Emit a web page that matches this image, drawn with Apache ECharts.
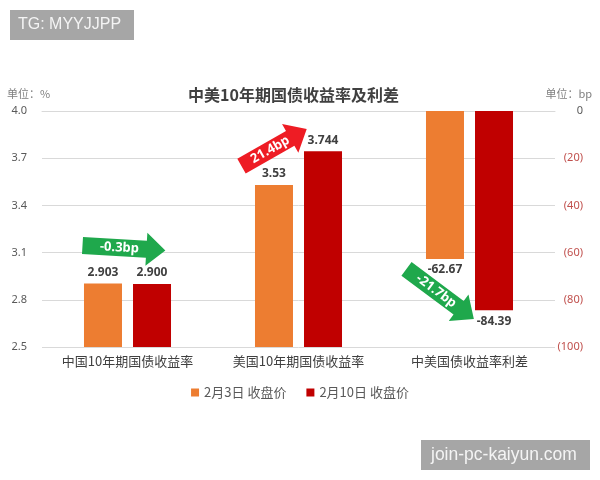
<!DOCTYPE html>
<html><head><meta charset="utf-8">
<script src="https://cdn.jsdelivr.net/npm/echarts@6/dist/echarts.min.js"></script>
<style>html,body{margin:0;padding:0;background:#fff}#c{width:600px;height:480px}</style>
</head><body><div id="c"></div>
<script>
const categories = ['中国10年期国债收益率', '美国10年期国债收益率', '中美国债收益率利差'];
const seriesNames = ['2月3日 收盘价', '2月10日 收盘价'];
const yieldFeb3 = [2.903, 3.53, null];
const yieldFeb10 = [2.900, 3.744, null];
const yieldFeb3Decimals = [3, 2, 0];
const yieldFeb10Decimals = [3, 3, 0];
const spreadFeb3 = [null, null, -62.67];
const spreadFeb10 = [null, null, -84.39];
const leftTicks = [2.5, 2.8, 3.1, 3.4, 3.7, 4.0];
const rightTicks = [-100, -80, -60, -40, -20, 0];
const arrowNotes = [
  { text: '-0.3bp', color: '#1fa84c', cat: 0, axis: 0, value: 3.145, dx: -45, len: 83, angle: -3.4, tx: 37 },
  { text: '21.4bp', color: '#ee1c24', cat: 1, axis: 0, value: 3.65, dx: -57, len: 75, angle: 29.6, tx: 33 },
  { text: '-21.7bp', color: '#1fa84c', cat: 2, axis: 1, value: -66.9, dx: -63, len: 84, angle: -36.7, tx: 37 }
];

const ORANGE = '#ed7d31', RED = '#c00000';
const FONT = "'Noto Sans', 'Noto Sans CJK SC', sans-serif";
const chart = echarts.init(document.getElementById('c'));

const labelBase = { show: true, fontSize: 12, fontWeight: 'bold', color: '#404040', fontFamily: FONT, distance: 5 };

const option = {
  animation: false,
  backgroundColor: '#fff',
  textStyle: { fontFamily: FONT },
  title: {
    text: '中美10年期国债收益率及利差', left: 183, top: 82,
    textStyle: { fontSize: 16, fontWeight: 'bold', color: '#404040', fontFamily: "'Noto Sans CJK SC', sans-serif" }
  },
  legend: {
    data: seriesNames, left: 'center', top: 381, icon: 'rect', itemWidth: 8, itemHeight: 8, itemGap: 20,
    textStyle: { fontSize: 13, color: '#595959', fontFamily: "'Noto Sans CJK SC', sans-serif" }
  },
  grid: { left: 42, right: 45, top: 111, bottom: 133 },
  xAxis: [
    { type: 'category', data: categories, axisTick: { show: false },
      axisLine: { lineStyle: { color: '#d9d9d9' } },
      axisLabel: { fontSize: 13, color: '#404040', margin: 8, fontFamily: "'Noto Sans CJK SC', sans-serif" } },
    { type: 'category', data: categories, show: false, position: 'bottom' }
  ],
  yAxis: [
    { type: 'value', min: leftTicks[0], max: leftTicks[leftTicks.length - 1], interval: 0.3,
      axisLine: { show: false }, axisTick: { show: false },
      splitLine: { lineStyle: { color: '#d9d9d9' } },
      axisLabel: { fontSize: 11, color: '#595959', margin: 15, formatter: v => Number(v).toFixed(1) } },
    { type: 'value', position: 'right', min: rightTicks[0], max: rightTicks[rightTicks.length - 1], interval: 20,
      axisLine: { show: false }, axisTick: { show: false }, splitLine: { show: false },
      axisLabel: { fontSize: 11, margin: 28, align: 'right',
        color: v => Number(v) === 0 ? '#595959' : '#c0504d',
        formatter: v => Number(v) === 0 ? '0' : '(' + Math.abs(v) + ')' } }
  ],
  series: [
    { name: seriesNames[0], type: 'bar', xAxisIndex: 0, yAxisIndex: 0, data: yieldFeb3,
      barWidth: 38, barGap: '29%', itemStyle: { color: ORANGE },
      label: Object.assign({}, labelBase, { position: 'top', formatter: p => yieldFeb3[p.dataIndex].toFixed(yieldFeb3Decimals[p.dataIndex]) }) },
    { name: seriesNames[1], type: 'bar', xAxisIndex: 0, yAxisIndex: 0, data: yieldFeb10,
      barWidth: 38, barGap: '29%', itemStyle: { color: RED },
      label: Object.assign({}, labelBase, { position: 'top', formatter: p => yieldFeb10[p.dataIndex].toFixed(yieldFeb10Decimals[p.dataIndex]) }) },
    { name: seriesNames[0], type: 'bar', xAxisIndex: 1, yAxisIndex: 1, data: spreadFeb3,
      barWidth: 38, barGap: '29%', itemStyle: { color: ORANGE },
      label: Object.assign({}, labelBase, { position: 'bottom', formatter: p => spreadFeb3[p.dataIndex].toFixed(2) }) },
    { name: seriesNames[1], type: 'bar', xAxisIndex: 1, yAxisIndex: 1, data: spreadFeb10,
      barWidth: 38, barGap: '29%', itemStyle: { color: RED },
      label: Object.assign({}, labelBase, { position: 'bottom', formatter: p => spreadFeb10[p.dataIndex].toFixed(2) }) }
  ]
};
chart.setOption(option);

function arrowGraphic(a) {
  const p = chart.convertToPixel({ xAxisIndex: a.axis, yAxisIndex: a.axis }, [a.cat, a.value]);
  const bh = 8.5, hh = 16.5, hl = 19, L = a.len;
  return {
    type: 'group', x: p[0] + a.dx, y: p[1], rotation: a.angle * Math.PI / 180, z: 100,
    children: [
      { type: 'polygon', shape: { points: [[0, -bh], [L - hl, -bh], [L - hl, -hh], [L, 0], [L - hl, hh], [L - hl, bh], [0, bh]] },
        style: { fill: a.color } },
      { type: 'text', x: a.tx, y: 0, style: { text: a.text, fill: '#fff', font: 'bold 13px ' + FONT, align: 'center', verticalAlign: 'middle' } }
    ]
  };
}

chart.setOption({
  graphic: [
    { type: 'text', left: 7, top: 88, style: { text: '单位：%', fill: '#7f7f7f', font: "11px 'Noto Sans CJK SC'" } },
    { type: 'text', right: 8, top: 88, style: { text: '单位：bp', fill: '#7f7f7f', font: "11px 'Noto Sans CJK SC'" } },
    { type: 'group', left: 10, top: 10, children: [
      { type: 'rect', shape: { x: 0, y: 0, width: 124, height: 30 }, style: { fill: '#a6a6a6' } },
      { type: 'text', x: 8, y: 15, style: { text: 'TG: MYYJJPP', fill: '#f4f4f4', font: "16px 'Liberation Sans'", verticalAlign: 'middle' } }
    ] },
    { type: 'group', left: 421, top: 440, children: [
      { type: 'rect', shape: { x: 0, y: 0, width: 169, height: 30 }, style: { fill: '#a6a6a6' } },
      { type: 'text', x: 10, y: 15, style: { text: 'join-pc-kaiyun.com', fill: '#f4f4f4', font: "17.5px 'Liberation Sans'", verticalAlign: 'middle' } }
    ] }
  ].concat(arrowNotes.map(arrowGraphic))
});
</script>
</body></html>
